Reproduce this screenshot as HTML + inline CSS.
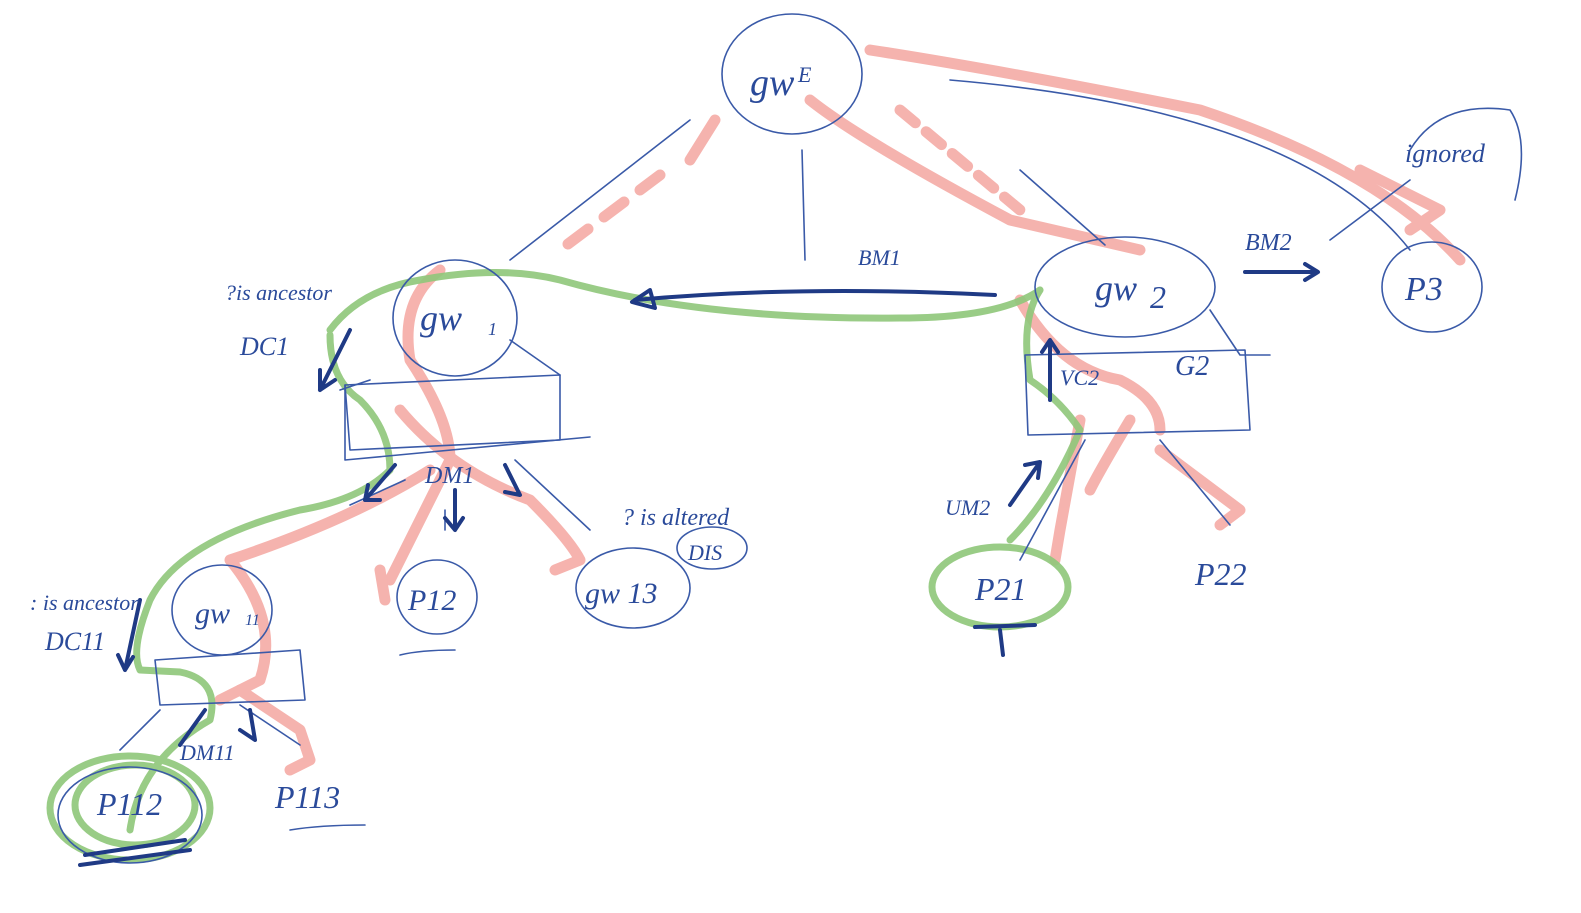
<!DOCTYPE html>
<html><head><meta charset="utf-8"><style>
html,body{margin:0;padding:0;background:#fff;}
svg{display:block}
text{font-family:"Liberation Serif",serif;font-style:italic;fill:#2a4a9a}
</style></head><body>
<svg width="1581" height="913" viewBox="0 0 1581 913" xmlns="http://www.w3.org/2000/svg">
<g fill="none" stroke-linecap="round" stroke-linejoin="round">
<!-- pink strokes -->
<g stroke="#f4a6a0" stroke-width="11" opacity="0.85">
<path d="M715 120 L690 160"/>
<path d="M660 175 L560 250" stroke-dasharray="25 20"/>
<path d="M810 100 Q860 140 1010 220 L1140 250"/>
<path d="M870 50 Q1000 70 1200 110 Q1380 170 1460 260"/>
<path d="M1360 170 L1440 210 L1410 230"/>
<path d="M900 110 L1020 210" stroke-dasharray="20 14"/>
<path d="M1020 300 Q1060 370 1120 380 Q1160 400 1160 430"/>
<path d="M1130 420 Q1100 470 1090 490"/>
<path d="M1160 450 L1240 510 L1220 525"/>
<path d="M1080 420 L1060 530 L1055 560"/>
<path d="M440 270 Q400 300 410 360 Q450 420 450 460 Q420 520 390 580"/>
<path d="M400 410 Q450 470 530 500 Q570 540 580 560 L555 570"/>
<path d="M430 470 Q350 520 230 560 Q280 620 260 680 L220 700"/>
<path d="M240 690 L300 730 L310 760 L290 770"/>
<path d="M380 570 L385 600"/>
</g>
<!-- green strokes -->
<g stroke="#8fc77a" stroke-width="7" opacity="0.9">
<path d="M330 330 Q360 290 420 280 Q500 265 560 280 Q700 320 900 318 Q1000 318 1040 290"/>
<path d="M1040 290 Q1020 320 1030 380 Q1060 400 1080 430 Q1050 500 1010 540"/>
<path d="M330 335 Q330 380 360 400 Q390 430 390 470 Q360 500 300 510 Q180 540 150 600 Q130 650 140 670 L180 672 Q220 680 210 720 Q140 760 130 830"/>
<ellipse cx="1000" cy="587" rx="68" ry="40"/>
<ellipse cx="130" cy="808" rx="80" ry="52"/>
<ellipse cx="135" cy="805" rx="60" ry="40"/>
</g>
<!-- blue thin strokes -->
<g stroke="#3a5aa8" stroke-width="1.6">
<ellipse cx="792" cy="74" rx="70" ry="60"/>
<ellipse cx="455" cy="318" rx="62" ry="58"/>
<ellipse cx="1125" cy="287" rx="90" ry="50"/>
<ellipse cx="1432" cy="287" rx="50" ry="45"/>
<path d="M1410 150 Q1440 100 1510 110 Q1530 140 1515 200"/>
<ellipse cx="222" cy="610" rx="50" ry="45"/>
<ellipse cx="437" cy="597" rx="40" ry="37"/>
<ellipse cx="633" cy="588" rx="57" ry="40"/>
<ellipse cx="712" cy="548" rx="35" ry="21"/>
<ellipse cx="130" cy="815" rx="72" ry="48"/>
<path d="M345 385 L560 375 L560 440 L350 450 Z"/>
<path d="M345 385 L345 460 L590 437"/>
<path d="M1025 355 L1245 350 L1250 430 L1028 435 Z"/>
<path d="M1210 310 L1240 355 L1270 355"/>
<path d="M155 660 L300 650 L305 700 L160 705 Z"/>
<path d="M510 260 L690 120"/>
<path d="M802 150 L805 260"/>
<path d="M950 80 Q1300 110 1410 250"/>
<path d="M1330 240 L1410 180"/>
<path d="M1020 170 L1105 245"/>
<path d="M370 380 L340 390 M510 340 L560 375"/>
<path d="M405 480 L350 505 M515 460 L590 530"/>
<path d="M445 510 L445 530"/>
<path d="M160 710 L120 750 M240 705 L300 745"/>
<path d="M1160 440 L1230 525 M1085 440 L1020 560"/>
<path d="M400 655 Q420 650 455 650"/>
<path d="M290 830 Q320 825 365 825"/>
</g>
<!-- dark arrows -->
<g stroke="#1f3a85" stroke-width="4">
<path d="M995 295 Q800 285 635 300"/>
<path d="M650 290 L632 302 L655 308 Z"/>
<path d="M350 330 L320 390 M320 390 L320 370 M320 390 L335 380"/>
<path d="M395 465 L365 500 L380 500 M365 500 L368 485"/>
<path d="M455 490 L455 530 L445 518 M455 530 L463 518"/>
<path d="M505 465 L520 495 L505 492"/>
<path d="M140 600 L125 670 L118 655 M125 670 L133 657"/>
<path d="M205 710 L180 745 M250 710 L255 740 L240 730"/>
<path d="M1245 272 L1318 272 L1305 264 M1318 272 L1305 280"/>
<path d="M1050 400 L1050 340 L1042 352 M1050 340 L1058 352"/>
<path d="M1010 505 L1040 462 L1025 465 M1040 462 L1038 478"/>
<path d="M975 627 L1035 625 M1000 630 L1003 655"/>
<path d="M85 855 L185 840 M80 865 L190 850"/>
</g>
</g>
<!-- labels -->
<text x="750" y="95" font-size="38">gw</text>
<text x="798" y="82" font-size="22">E</text>
<text x="420" y="330" font-size="36">gw</text>
<text x="488" y="335" font-size="18">1</text>
<text x="1095" y="300" font-size="36">gw</text>
<text x="1150" y="308" font-size="32">2</text>
<text x="1405" y="300" font-size="34">P3</text>
<text x="1405" y="162" font-size="26">ignored</text>
<text x="1245" y="250" font-size="24">BM2</text>
<text x="858" y="265" font-size="22">BM1</text>
<text x="225" y="300" font-size="22">?is ancestor</text>
<text x="240" y="355" font-size="26">DC1</text>
<text x="1175" y="375" font-size="28">G2</text>
<text x="1060" y="385" font-size="22">VC2</text>
<text x="945" y="515" font-size="22">UM2</text>
<text x="975" y="600" font-size="32">P21</text>
<text x="1195" y="585" font-size="32">P22</text>
<text x="425" y="483" font-size="24">DM1</text>
<text x="408" y="610" font-size="30">P12</text>
<text x="585" y="603" font-size="30">gw 13</text>
<text x="622" y="525" font-size="24">? is altered</text>
<text x="688" y="560" font-size="22">DIS</text>
<text x="30" y="610" font-size="22">: is ancestor</text>
<text x="45" y="650" font-size="26">DC11</text>
<text x="195" y="623" font-size="30">gw</text>
<text x="245" y="625" font-size="16">11</text>
<text x="180" y="760" font-size="22">DM11</text>
<text x="97" y="815" font-size="32">P112</text>
<text x="275" y="808" font-size="32">P113</text>
</svg>
</body></html>
